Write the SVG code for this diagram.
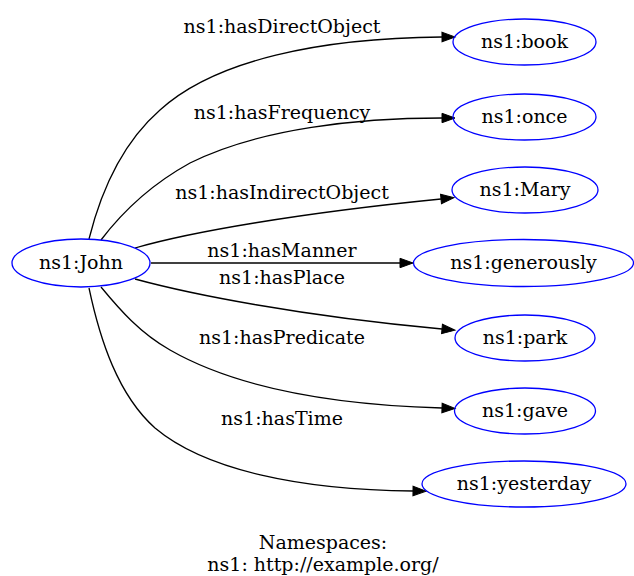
<svg xmlns="http://www.w3.org/2000/svg" width="634" height="576" viewBox="0 0 634 576">
<style>
text{font-family:"DejaVu Serif","Liberation Serif",serif;font-size:19px;fill:#000;text-anchor:middle}
.node ellipse{fill:none;stroke:#0000ff;stroke-width:1.3}
.edge path{fill:none;stroke:#000;stroke-width:1.3}
</style>
<defs>
<marker id="ah" markerUnits="userSpaceOnUse" markerWidth="14" markerHeight="10" refX="0" refY="4.7" orient="auto" overflow="visible">
<path d="M0,0 L13,4.7 L0,9.4 Z" fill="#000" stroke="#000" stroke-width="1"/>
</marker>
</defs>
<rect width="634" height="576" fill="#fff"/>
<g id="edges">
<g class="edge"><path d="M89,239 C100,195 120,145 160,110 C215,60 320,38 442,37" marker-end="url(#ah)"/><text x="282" y="33">ns1:hasDirectObject</text></g>
<g class="edge"><path d="M101,240 C120,215 150,185 190,163 C260,128 360,118 442,118" marker-end="url(#ah)"/><text x="282" y="119">ns1:hasFrequency</text></g>
<g class="edge"><path d="M135,248 C190,232 300,213 441,199" marker-end="url(#ah)"/><text x="282" y="199">ns1:hasIndirectObject</text></g>
<g class="edge"><path d="M151,263 L400,263" marker-end="url(#ah)"/><text x="282" y="257">ns1:hasManner</text></g>
<g class="edge"><path d="M135,279 C190,294 300,316 442,329" marker-end="url(#ah)"/><text x="282" y="284">ns1:hasPlace</text></g>
<g class="edge"><path d="M101,287 C120,310 140,333 170,350 C240,390 340,405 442,408" marker-end="url(#ah)"/><text x="282" y="344">ns1:hasPredicate</text></g>
<g class="edge"><path d="M89,288 C100,340 118,395 155,428 C205,470 300,490 413,491" marker-end="url(#ah)"/><text x="282" y="425">ns1:hasTime</text></g>
</g>
<g id="n_John" class="node"><ellipse cx="81" cy="263" rx="69" ry="24"/><text x="81" y="269">ns1:John</text></g>
<g id="n_book" class="node"><ellipse cx="524.5" cy="42" rx="71.5" ry="23"/><text x="524.5" y="48">ns1:book</text></g>
<g id="n_once" class="node"><ellipse cx="524.5" cy="117" rx="71.5" ry="23"/><text x="524.5" y="123">ns1:once</text></g>
<g id="n_Mary" class="node"><ellipse cx="525" cy="190" rx="73" ry="23"/><text x="525" y="196">ns1:Mary</text></g>
<g id="n_generously" class="node"><ellipse cx="523.5" cy="263" rx="110" ry="23.5"/><text x="523.5" y="269">ns1:generously</text></g>
<g id="n_park" class="node"><ellipse cx="525" cy="338" rx="70" ry="23"/><text x="525" y="344">ns1:park</text></g>
<g id="n_gave" class="node"><ellipse cx="525" cy="411" rx="70.5" ry="23"/><text x="525" y="417">ns1:gave</text></g>
<g id="n_yesterday" class="node"><ellipse cx="524" cy="484" rx="102" ry="23"/><text x="524" y="490">ns1:yesterday</text></g>
<g id="legend"><text x="323" y="549">Namespaces:</text><text x="323" y="571">ns1: http://example.org/</text></g>
</svg>
